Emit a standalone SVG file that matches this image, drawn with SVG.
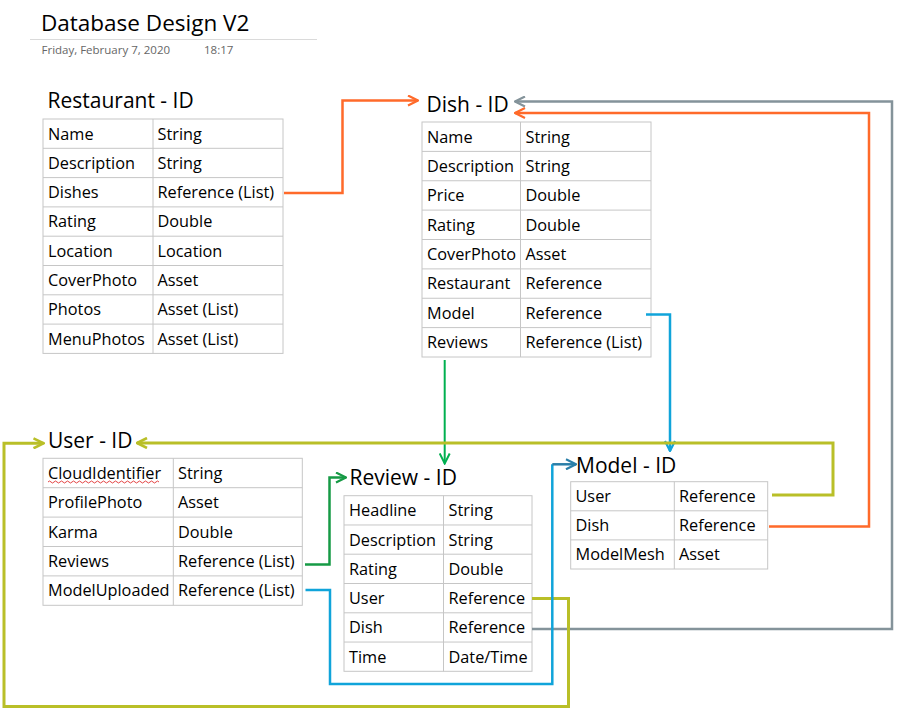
<svg xmlns="http://www.w3.org/2000/svg" width="900" height="713" viewBox="0 0 900 713">
<style>
  .bg { fill: #ffffff; }
  .tbl rect { fill: none; stroke: #c6c6c6; stroke-width: 1; }
  .tbl line { stroke: #c6c6c6; stroke-width: 1; }
  text { font-family: "Open Sans", "Liberation Sans", sans-serif; fill: #000000; }
  .cell { font-size: 16.3px; }
  .title { font-size: 21px; }
  .main { font-size: 22.5px; }
  .date { font-size: 11.5px; fill: #666666; }
  .conn path { fill: none; stroke-linejoin: miter; }
  .orange { stroke: #ff6a2a; stroke-width: 2.5; }
  .gray { stroke: #84939a; stroke-width: 2.5; }
  .blue { stroke: #10a4da; stroke-width: 2.5; }
  .teal { stroke: #2a7ea8; stroke-width: 2.5; }
  .green { stroke: #00b050; stroke-width: 2; }
  .dkgreen { stroke: #169a45; stroke-width: 2.5; }
  .yellow { stroke: #b9bf28; stroke-width: 3; }
</style>
<defs>
  <marker id="aOrange" viewBox="0 0 12 12" refX="11" refY="6" markerWidth="12" markerHeight="12" markerUnits="userSpaceOnUse" orient="auto"><path d="M1,1 L11,6 L1,11" fill="none" stroke="#ff6a2a" stroke-width="2.2"/></marker>
  <marker id="aGray" viewBox="0 0 12 12" refX="11" refY="6" markerWidth="12" markerHeight="12" markerUnits="userSpaceOnUse" orient="auto"><path d="M1,1 L11,6 L1,11" fill="none" stroke="#84939a" stroke-width="2.2"/></marker>
  <marker id="aBlue" viewBox="0 0 12 12" refX="11" refY="6" markerWidth="12" markerHeight="12" markerUnits="userSpaceOnUse" orient="auto"><path d="M1,1 L11,6 L1,11" fill="none" stroke="#10a4da" stroke-width="2.2"/></marker>
  <marker id="aTeal" viewBox="0 0 12 12" refX="11" refY="6" markerWidth="12" markerHeight="12" markerUnits="userSpaceOnUse" orient="auto"><path d="M1,1 L11,6 L1,11" fill="none" stroke="#2a7ea8" stroke-width="2.2"/></marker>
  <marker id="aGreen" viewBox="0 0 12 12" refX="11" refY="6" markerWidth="12" markerHeight="12" markerUnits="userSpaceOnUse" orient="auto"><path d="M1,1 L11,6 L1,11" fill="none" stroke="#00b050" stroke-width="2"/></marker>
  <marker id="aDkGreen" viewBox="0 0 12 12" refX="11" refY="6" markerWidth="12" markerHeight="12" markerUnits="userSpaceOnUse" orient="auto"><path d="M1,1 L11,6 L1,11" fill="none" stroke="#169a45" stroke-width="2.2"/></marker>
  <marker id="aYellow" viewBox="0 0 12 12" refX="11" refY="6" markerWidth="12" markerHeight="12" markerUnits="userSpaceOnUse" orient="auto"><path d="M1,1 L11,6 L1,11" fill="none" stroke="#b9bf28" stroke-width="2.6"/></marker>
</defs>
<rect class="bg" x="0" y="0" width="900" height="713"/>

<g id="header">
  <text class="main" x="41" y="31">Database Design V2</text>
  <line x1="30" y1="39.5" x2="317" y2="39.5" stroke="#dadada" stroke-width="1"/>
  <text class="date" x="41.5" y="53.5">Friday, February 7, 2020</text>
  <text class="date" x="204" y="53.5">18:17</text>
</g>

<g id="restaurant">
  <text class="title" x="47.5" y="107.5">Restaurant - ID</text>
  <g class="tbl">
    <rect x="43" y="119" width="240" height="234.4"/>
    <line x1="153" y1="119" x2="153" y2="353.4"/>
    <line x1="43" y1="148.3" x2="283" y2="148.3"/>
    <line x1="43" y1="177.6" x2="283" y2="177.6"/>
    <line x1="43" y1="206.9" x2="283" y2="206.9"/>
    <line x1="43" y1="236.2" x2="283" y2="236.2"/>
    <line x1="43" y1="265.5" x2="283" y2="265.5"/>
    <line x1="43" y1="294.8" x2="283" y2="294.8"/>
    <line x1="43" y1="324.1" x2="283" y2="324.1"/>
  </g>
  <text class="cell" x="48" y="139.5">Name</text><text class="cell" x="157.5" y="139.5">String</text>
  <text class="cell" x="48" y="168.8">Description</text><text class="cell" x="157.5" y="168.8">String</text>
  <text class="cell" x="48" y="198.1">Dishes</text><text class="cell" x="157.5" y="198.1">Reference (List)</text>
  <text class="cell" x="48" y="227.4">Rating</text><text class="cell" x="157.5" y="227.4">Double</text>
  <text class="cell" x="48" y="256.7">Location</text><text class="cell" x="157.5" y="256.7">Location</text>
  <text class="cell" x="48" y="286">CoverPhoto</text><text class="cell" x="157.5" y="286">Asset</text>
  <text class="cell" x="48" y="315.3">Photos</text><text class="cell" x="157.5" y="315.3">Asset (List)</text>
  <text class="cell" x="48" y="344.6">MenuPhotos</text><text class="cell" x="157.5" y="344.6">Asset (List)</text>
</g>

<g id="dish">
  <text class="title" x="426.5" y="111.7">Dish - ID</text>
  <g class="tbl">
    <rect x="422" y="122" width="229" height="235"/>
    <line x1="520.5" y1="122" x2="520.5" y2="357"/>
    <line x1="422" y1="151.4" x2="651" y2="151.4"/>
    <line x1="422" y1="180.75" x2="651" y2="180.75"/>
    <line x1="422" y1="210.1" x2="651" y2="210.1"/>
    <line x1="422" y1="239.5" x2="651" y2="239.5"/>
    <line x1="422" y1="268.9" x2="651" y2="268.9"/>
    <line x1="422" y1="298.25" x2="651" y2="298.25"/>
    <line x1="422" y1="327.6" x2="651" y2="327.6"/>
  </g>
  <text class="cell" x="427" y="142.5">Name</text><text class="cell" x="525.5" y="142.5">String</text>
  <text class="cell" x="427" y="171.9">Description</text><text class="cell" x="525.5" y="171.9">String</text>
  <text class="cell" x="427" y="201.25">Price</text><text class="cell" x="525.5" y="201.25">Double</text>
  <text class="cell" x="427" y="230.6">Rating</text><text class="cell" x="525.5" y="230.6">Double</text>
  <text class="cell" x="427" y="260">CoverPhoto</text><text class="cell" x="525.5" y="260">Asset</text>
  <text class="cell" x="427" y="289.4">Restaurant</text><text class="cell" x="525.5" y="289.4">Reference</text>
  <text class="cell" x="427" y="318.75">Model</text><text class="cell" x="525.5" y="318.75">Reference</text>
  <text class="cell" x="427" y="348.1">Reviews</text><text class="cell" x="525.5" y="348.1">Reference (List)</text>
</g>

<g id="user">
  <text class="title" x="48" y="448.3">User - ID</text>
  <g class="tbl">
    <rect x="43" y="458.3" width="259.3" height="147"/>
    <line x1="173.3" y1="458.3" x2="173.3" y2="605.3"/>
    <line x1="43" y1="487.7" x2="302.3" y2="487.7"/>
    <line x1="43" y1="517.1" x2="302.3" y2="517.1"/>
    <line x1="43" y1="546.5" x2="302.3" y2="546.5"/>
    <line x1="43" y1="575.9" x2="302.3" y2="575.9"/>
  </g>
  <path d="M48,482 q1.5,-2 3,0 t3,0 t3,0 t3,0 t3,0 t3,0 t3,0 t3,0 t3,0 t3,0 t3,0 t3,0 t3,0 t3,0 t3,0 t3,0 t3,0 t3,0 t3,0 t3,0 t3,0 t3,0 t3,0 t3,0 t3,0 t3,0 t3,0 t3,0 t3,0 t3,0 t3,0 t3,0 t3,0 t3,0 t3,0 t3,0 t3,0" fill="none" stroke="#e03030" stroke-width="0.9"/>
  <text class="cell" x="48" y="478.8">CloudIdentifier</text><text class="cell" x="178" y="478.8">String</text>
  <text class="cell" x="48" y="508.2">ProfilePhoto</text><text class="cell" x="178" y="508.2">Asset</text>
  <text class="cell" x="48" y="537.6">Karma</text><text class="cell" x="178" y="537.6">Double</text>
  <text class="cell" x="48" y="567">Reviews</text><text class="cell" x="178" y="567">Reference (List)</text>
  <text class="cell" x="48" y="596.4">ModelUploaded</text><text class="cell" x="178" y="596.4">Reference (List)</text>
</g>

<g id="review">
  <text class="title" x="349.5" y="485">Review - ID</text>
  <g class="tbl">
    <rect x="344" y="495.7" width="188" height="175.6"/>
    <line x1="443.5" y1="495.7" x2="443.5" y2="671.3"/>
    <line x1="344" y1="524.97" x2="532" y2="524.97"/>
    <line x1="344" y1="554.2" x2="532" y2="554.2"/>
    <line x1="344" y1="583.5" x2="532" y2="583.5"/>
    <line x1="344" y1="612.8" x2="532" y2="612.8"/>
    <line x1="344" y1="642.05" x2="532" y2="642.05"/>
  </g>
  <text class="cell" x="349" y="516.2">Headline</text><text class="cell" x="448.5" y="516.2">String</text>
  <text class="cell" x="349" y="545.5">Description</text><text class="cell" x="448.5" y="545.5">String</text>
  <text class="cell" x="349" y="574.7">Rating</text><text class="cell" x="448.5" y="574.7">Double</text>
  <text class="cell" x="349" y="604">User</text><text class="cell" x="448.5" y="604">Reference</text>
  <text class="cell" x="349" y="633.3">Dish</text><text class="cell" x="448.5" y="633.3">Reference</text>
  <text class="cell" x="349" y="662.5">Time</text><text class="cell" x="448.5" y="662.5">Date/Time</text>
</g>

<g id="model">
  <text class="title" x="576" y="472.7">Model - ID</text>
  <g class="tbl">
    <rect x="570.7" y="481.7" width="197" height="87.3"/>
    <line x1="674.3" y1="481.7" x2="674.3" y2="569"/>
    <line x1="570.7" y1="510.8" x2="767.7" y2="510.8"/>
    <line x1="570.7" y1="539.9" x2="767.7" y2="539.9"/>
  </g>
  <text class="cell" x="575.5" y="502.2">User</text><text class="cell" x="679" y="502.2">Reference</text>
  <text class="cell" x="575.5" y="531.3">Dish</text><text class="cell" x="679" y="531.3">Reference</text>
  <text class="cell" x="575.5" y="560.4">ModelMesh</text><text class="cell" x="679" y="560.4">Asset</text>
</g>

<g id="connectors" class="conn">
  <path class="orange" d="M284,193 H342.5 V100.5 H418" marker-end="url(#aOrange)"/>
  <path class="gray" d="M532,629 H892 V101.5 H515" marker-end="url(#aGray)"/>
  <path class="orange" d="M769,526.5 H869 V113 H515" marker-end="url(#aOrange)"/>
  <path class="blue" d="M646,314.5 H670 V451" marker-end="url(#aBlue)"/>
  <path class="green" d="M444.7,360 V463.5" marker-end="url(#aGreen)"/>
  <path class="yellow" d="M772,495 H833 V443 H137" marker-end="url(#aYellow)"/>
  <path class="yellow" d="M532,598.5 H568.5 V706.5 H4 V443.3 H43.5" marker-end="url(#aYellow)"/>
  <path class="dkgreen" d="M305,564.5 H329.5 V477.5 H346" marker-end="url(#aDkGreen)"/>
  <path class="blue" d="M305.5,590 H330 V684 H552.3 V464.3"/>
  <path class="teal" d="M552.3,464.3 H576" marker-end="url(#aTeal)"/>
</g>
</svg>
